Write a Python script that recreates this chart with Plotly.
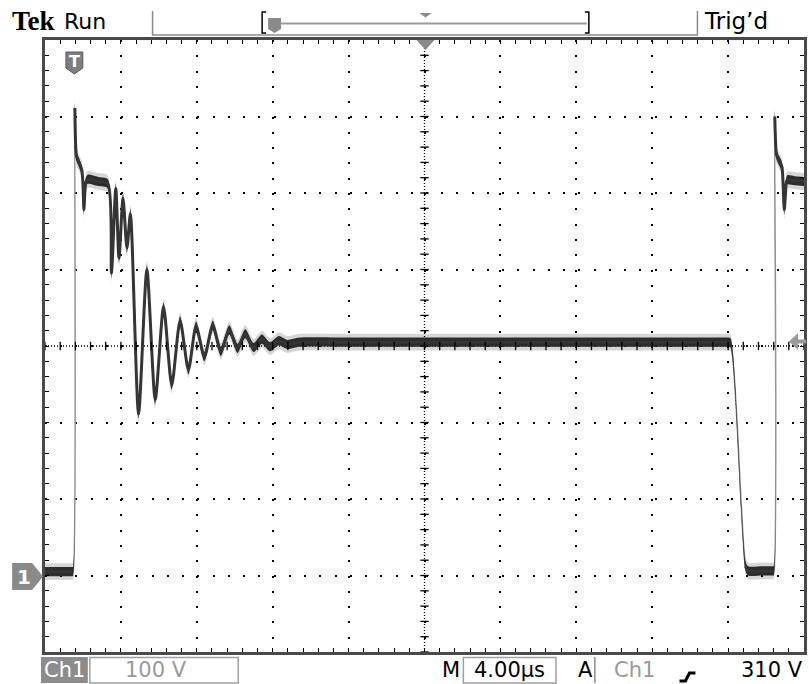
import plotly.graph_objects as go
import numpy as np

# ---- Waveform read from the screen (Ch1, 100 V/div, 4.00 µs/div) ----
# time in µs measured from the left edge of the graticule, voltage in V
time_us = [0.00, 0.60, 1.20, 1.44, 1.48,
           1.575, 1.66, 1.785, 1.94, 2.00, 2.05, 2.10, 2.16, 2.26, 2.80, 3.31,
           3.50, 3.73, 3.90, 4.11, 4.32, 4.50, 4.93, 5.37, 5.81, 6.25, 6.68, 7.12,
           7.56, 7.96, 8.40, 8.84, 9.27, 9.71, 10.15, 10.55, 10.99, 11.43, 11.86,
           12.33, 12.76, 13.40, 16.0, 20.0, 24.0, 28.0, 32.0, 35.2, 36.00, 36.13,
           36.92, 37.05, 37.80, 38.36, 38.41,
           38.46, 38.55, 38.63, 38.74, 38.84, 38.90, 38.96, 39.03, 39.11, 39.50, 40.00]
volts_v = [5, 5, 5, 5, 5,
           611, 548, 540, 530, 512, 478, 500, 515, 518, 515, 512,
           395, 506, 415, 493, 428, 473, 211, 400, 230, 351, 249, 333,
           269, 326, 286, 327, 293, 321, 297, 316, 298, 309, 299,
           307, 302, 305, 305, 305, 305, 305, 305, 305, 305, 304,
           12, 6, 6, 6, 6,
           600, 550, 545, 540, 534, 510, 478, 500, 517, 516, 515]

# screen settings
x_range = [0, 40]      # 10 div x 4 µs
y_range = [-100, 700]  # 8 div x 100 V, ground at -3 div from centre
x_center = 20
y_center = 300

W, H = 809, 684
L, R, T, B = 45, 807, 40, 652


def px(x):
    return (x - L) / (R - L)


def py(y):
    return (B - y) / (B - T)


t = np.array(time_us)
v = np.array(volts_v, dtype=float)
core = 6.0
halo = 11.0

# break the thick trace on the large, fast transitions (they show up faint on the screen)
dv = np.abs(np.diff(v))
slope = dv / np.diff(t)
tk, vk = [t[0]], [v[0]]
for i in range(1, len(t)):
    if slope[i - 1] > 2000 or dv[i - 1] > 280:
        tk.append(None)
        vk.append(None)
    tk.append(t[i])
    vk.append(v[i])

SPL = dict(shape="spline", smoothing=0.7)
fig = go.Figure()

# thin trace (shows fast edges faintly)
fig.add_trace(go.Scatter(x=t, y=v, mode="lines",
                         line=dict(color="#9a9a9a", width=1.6, **SPL), hoverinfo="skip"))
# halo band
fig.add_trace(go.Scatter(x=t, y=v - halo, mode="lines",
                         line=dict(width=0, **SPL), hoverinfo="skip"))
fig.add_trace(go.Scatter(x=t, y=v + halo, mode="lines", fill="tonexty",
                         fillcolor="rgba(0,0,0,0.16)",
                         line=dict(width=0, **SPL), hoverinfo="skip"))
# core band
fig.add_trace(go.Scatter(x=t, y=v - core, mode="lines",
                         line=dict(width=0, **SPL), hoverinfo="skip"))
fig.add_trace(go.Scatter(x=t, y=v + core, mode="lines", fill="tonexty",
                         fillcolor="#2c2c2c",
                         line=dict(width=0, **SPL), hoverinfo="skip"))
# persistence stroke
fig.add_trace(go.Scatter(x=tk, y=vk, mode="lines", connectgaps=False,
                         line=dict(color="#353535", width=3, **SPL), hoverinfo="skip"))

# centre cross tick marks (graticule)
xt = np.arange(x_range[0], x_range[1] + 1e-9, 0.8)
yt = np.arange(y_range[0], y_range[1] + 1e-9, 20)
fig.add_trace(go.Scatter(x=xt, y=[y_center] * len(xt), mode="markers",
                         marker=dict(symbol="line-ns", size=6, line=dict(color="black", width=1.3)),
                         hoverinfo="skip"))
fig.add_trace(go.Scatter(x=[x_center] * len(yt), y=yt, mode="markers",
                         marker=dict(symbol="line-ew", size=6, line=dict(color="black", width=1.3)),
                         hoverinfo="skip"))

shapes = []
# centre dotted lines
shapes.append(dict(type="line", xref="x", yref="y", x0=x_center, x1=x_center,
                   y0=y_range[0], y1=y_range[1],
                   line=dict(color="black", width=1.3, dash="1px,2px"), layer="below"))
shapes.append(dict(type="line", xref="x", yref="y", x0=x_range[0], x1=x_range[1],
                   y0=y_center, y1=y_center,
                   line=dict(color="black", width=1.3, dash="1px,2px"), layer="below"))


def path_shape(pts, fill, line_color=None, lw=0, closed=True):
    d = "M" + " L".join(f"{px(a):.5f},{py(b):.5f}" for a, b in pts)
    if closed:
        d += " Z"
    s = dict(type="path", xref="paper", yref="paper", path=d, layer="above",
             line=dict(width=lw, color=line_color or "rgba(0,0,0,0)"))
    if fill:
        s["fillcolor"] = fill
    return s


GRAY = "#8a8a8a"
# trigger position marker at top
shapes.append(path_shape([(418, 40), (436, 40), (427, 50)], GRAY))
# T shield marker in the plot
shapes.append(path_shape([(66, 52), (83, 52), (83, 68), (74.5, 74), (66, 68)], "#7e7e7e",
                         "#5a5a5a", 1))
# trigger level arrow (right side)
shapes.append(path_shape([(792, 341.5), (801, 333), (801, 339.5), (809, 339.5), (809, 343.5),
                          (801, 343.5), (801, 350)], "#9a9a9a"))
# ground marker "1"
shapes.append(path_shape([(12, 563), (32, 563), (43, 576.5), (32, 590), (12, 590)], GRAY))

# header separators
shapes.append(path_shape([(153, 11), (153, 35), (700, 35), (700, 11)], None, "#8c8c8c", 1.5,
                         closed=False))
# record view bar
shapes.append(path_shape([(267, 12), (263, 12), (263, 33), (267, 33)], None, "black", 1.5,
                         closed=False))
shapes.append(path_shape([(282, 23.5), (589, 23.5)], None, "#9a9a9a", 2, closed=False))
shapes.append(path_shape([(587, 12), (591, 12), (591, 33), (587, 33)], None, "black", 1.5,
                         closed=False))
shapes.append(path_shape([(269, 18), (282, 18), (282, 29), (275.5, 33), (269, 29)], "#8a8a8a"))
shapes.append(path_shape([(421, 13), (433, 13), (427, 17.5)], "#8a8a8a"))

# bottom readout boxes
shapes.append(path_shape([(41, 657), (88, 657), (88, 683), (41, 683)], "#8c8c8c"))
shapes.append(path_shape([(90, 657.5), (239, 657.5), (239, 683), (90, 683)], None, "#a0a0a0", 1.5))
shapes.append(path_shape([(465, 657.5), (558, 657.5), (558, 683), (465, 683)], None, "#a0a0a0", 1.5))
shapes.append(path_shape([(597, 657), (597, 683)], None, "#8c8c8c", 1.5, closed=False))
# rising-edge trigger slope symbol
shapes.append(path_shape([(682, 681), (688, 681), (692, 673), (698, 673)], None, "black", 3,
                         closed=False))

FONT = "DejaVu Sans"
annotations = []


def label(text, x, y, size, color="black", anchor="left", family=FONT):
    annotations.append(dict(text=text, x=px(x), y=py(y), xref="paper", yref="paper",
                            xanchor=anchor, yanchor="middle", showarrow=False,
                            font=dict(family=family, size=size, color=color)))


label("<b>Tek</b>", 10, 21, 27, family="Liberation Serif")
label("Run", 62, 21, 22)
label("Trig’d", 705, 21, 23)
label("<b>T</b>", 74.5, 61.5, 16, color="white", anchor="center")
label("<b>1</b>", 24, 577, 20, color="white", anchor="center")
label("Ch1", 64.5, 670, 21, color="white", anchor="center")
label("100 V", 156, 670, 21, color="#999999", anchor="center")
label("M", 453, 670, 21, anchor="center")
label("4.00µs", 511.5, 670, 21, anchor="center")
label("A", 588, 670, 21, anchor="center")
label("Ch1", 637, 670, 21, color="#999999", anchor="center")
label("310 V", 808, 670, 21, anchor="right")

axis_common = dict(showgrid=True, gridcolor="black", gridwidth=1.6, zeroline=False,
                   showline=True, linecolor="#4a4a4a", linewidth=2.5, mirror="allticks",
                   ticks="inside", ticklen=4, tickwidth=1.4, tickcolor="black",
                   showticklabels=False, fixedrange=True)

fig.update_layout(
    width=W, height=H, autosize=False,
    margin=dict(l=L, r=W - R, t=T, b=H - B, pad=0),
    paper_bgcolor="white", plot_bgcolor="white",
    showlegend=False,
    xaxis=dict(range=x_range, dtick=4, tick0=0, griddash="2px,13.3px",
               minor=dict(dtick=0.8, tick0=0, ticks="inside", ticklen=4, tickwidth=1.4,
                          tickcolor="black", showgrid=False),
               **axis_common),
    yaxis=dict(range=y_range, dtick=100, tick0=0, griddash="2px,13.24px",
               minor=dict(dtick=20, tick0=0, ticks="inside", ticklen=4, tickwidth=1.4,
                          tickcolor="black", showgrid=False),
               **axis_common),
    shapes=shapes,
    annotations=annotations,
)

fig.write_html("out.html", config={"displayModeBar": False},
               post_script="document.body.style.margin='0';document.body.style.overflow='hidden';")
